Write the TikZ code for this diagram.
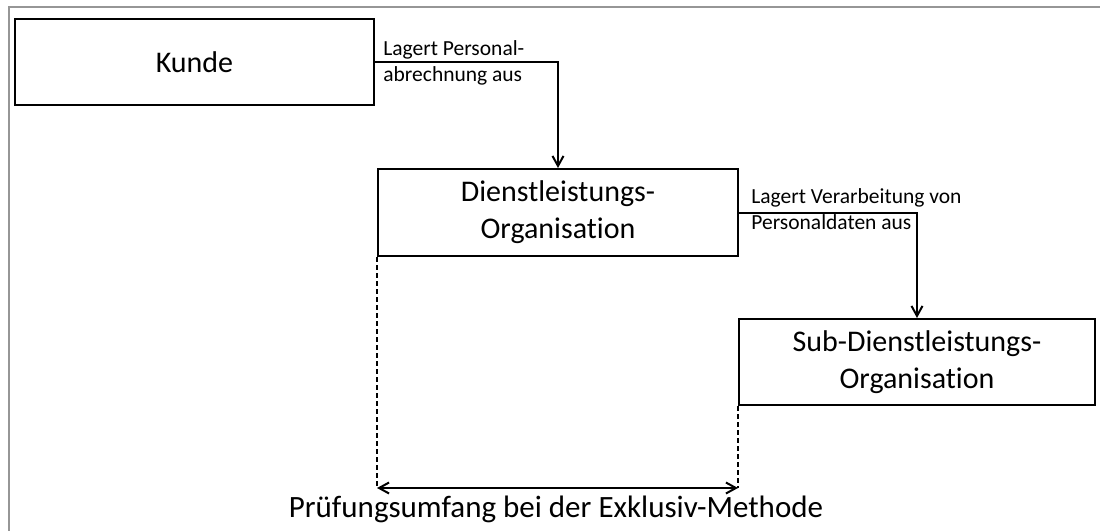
\documentclass[tikz,border=0pt]{standalone}
\usepackage{fontspec}
\setmainfont{Carlito}[Ligatures={NoCommon}]
\usetikzlibrary{arrows.meta}
\definecolor{framegray}{RGB}{150,150,150}
\begin{document}
\begin{tikzpicture}[x=0.5pt,y=-0.5pt,
  box/.style={draw,line width=1pt,rectangle,inner sep=0pt,align=center,font=\fontsize{15}{18.5}\selectfont},
  conn/.style={line width=1pt,-{Straight Barb[length=5pt,width=5.5pt]}},
  span/.style={line width=1pt,{Straight Barb[length=5pt,width=5.5pt]}-{Straight Barb[length=5pt,width=5.5pt]}},
  lbl/.style={anchor=base west,inner sep=0pt,font=\fontsize{10.75}{13}\selectfont},
  guide/.style={line width=0.6pt,dash pattern=on 2.5pt off 1.5pt},
  frame/.style={line width=0.75pt,draw=framegray}]
\useasboundingbox (0,0) rectangle (1100,531);
\draw[frame] (9,531) -- (9,7) -- (1100,7);
\node[box,minimum width=179.5pt,minimum height=43pt] (kunde) at (194.5,62) {Kunde};
\node[box,minimum width=180pt,minimum height=43.5pt] (dienst) at (558,212.5) {Dienstleistungs-\\Organisation};
\node[box,minimum width=178pt,minimum height=43pt] (sub) at (917,362) {Sub-Dienstleistungs-\\Organisation};
\draw[conn] (kunde.east) -| (dienst.north);
\draw[conn] (dienst.east) -| (sub.north);
\node[lbl] (l1a) at (383,55) {Lagert Personal-};
\node[lbl] (l1b) at (383,81) {abrechnung aus};
\node[lbl] (l2a) at (751,203) {Lagert Verarbeitung von};
\node[lbl] (l2b) at (751,229) {Personaldaten aus};
\coordinate (sl) at (dienst.south west |- 0,488);
\coordinate (sr) at (sub.south west |- 0,488);
\draw[guide] (dienst.south west) -- (sl);
\draw[guide] (sub.south west) -- (sr);
\draw[span] (sl) -- (sr);
\node[anchor=base,inner sep=0pt,font=\fontsize{15.5}{18}\selectfont] (scopetxt) at (556,517) {Prüfungsumfang bei der Exklusiv-Methode};
\end{tikzpicture}
\end{document}
